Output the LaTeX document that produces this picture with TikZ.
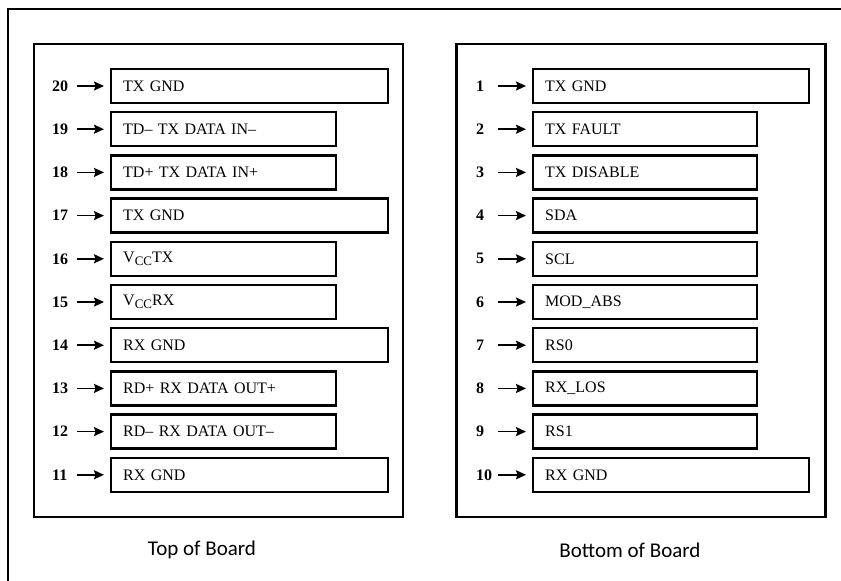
\documentclass[tikz,border=0pt]{standalone}
\usepackage{fontspec}
\setmainfont{Liberation Serif}
\newfontfamily\capfont{Carlito}
\usetikzlibrary{arrows.meta}
\newcommand\lowsub[1]{\raisebox{-3.5pt}{\fontsize{13}{14}\selectfont #1}}
\begin{document}
\begin{tikzpicture}[x=1pt,y=-1pt,
  pinbox/.style={draw, line width=2.4pt, anchor=west, minimum height=34pt,
    inner xsep=12pt, inner ysep=0pt, align=left, font=\fontsize{16}{18}\selectfont},
  pinnum/.style={anchor=west, inner sep=0pt, align=left, font=\bfseries\fontsize{16}{18}\selectfont},
  pinarrow/.style={line width=1.6pt, -{Stealth[length=10pt,width=9pt,inset=1.5pt]},
    shorten <=8pt, shorten >=6pt},
  panel/.style={draw, line width=2.2pt, minimum width=369pt, minimum height=473pt, inner sep=0pt},
  caption/.style={font=\capfont\fontsize{21}{24}\selectfont}]
\useasboundingbox (0,0) rectangle (841,581);
\coordinate (fa) at (8,581);
\coordinate (fb) at (8,9);
\coordinate (fc) at (841,9);
\draw[line width=2pt] (fa) -- (fb) -- (fc);
\node[panel] (leftpanel) at (218.5,280.5) {};
\node[panel] (rightpanel) at (641,280.5) {};
\foreach \n/\t/\w [count=\i from 0] in {
  20/TX GND/277,
  19/TD– TX DATA IN–/225,
  18/TD+ TX DATA IN+/225,
  17/TX GND/277,
  16/{V\lowsub{CC}TX}/225,
  15/{V\lowsub{CC}RX}/225,
  14/RX GND/277,
  13/RD+ RX DATA OUT+/225,
  12/RD– RX DATA OUT–/225,
  11/RX GND/277}{
  \pgfmathsetmacro\yy{86+43.2*\i}
  \pgfmathsetmacro\tw{\w-24}
  \node[pinbox, text width=\tw pt, minimum width=\w pt] (L\n) at (110,\yy) {\t};
  \node[pinnum, text width=17pt] (LN\n) at (52,\yy) {\n};
  \draw[pinarrow] (LN\n) -- (L\n);
}
\foreach \n/\t/\w [count=\i from 0] in {
  1/TX GND/276,
  2/TX FAULT/224,
  3/TX DISABLE/224,
  4/SDA/224,
  5/SCL/224,
  6/MOD\_ABS/224,
  7/RS0/224,
  8/RX\_LOS/224,
  9/RS1/224,
  10/RX GND/276}{
  \pgfmathsetmacro\yy{86+43.2*\i}
  \pgfmathsetmacro\tw{\w-24}
  \node[pinbox, text width=\tw pt, minimum width=\w pt] (R\n) at (532,\yy) {\t};
  \node[pinnum, text width=15pt] (RN\n) at (476,\yy) {\n};
  \draw[pinarrow, shorten <=7pt] (RN\n) -- (R\n);
}
\node[caption] (captop) at (202,550) {Top of Board};
\node[caption] (capbottom) at (630,550) {Bottom of Board};
\end{tikzpicture}
\end{document}
